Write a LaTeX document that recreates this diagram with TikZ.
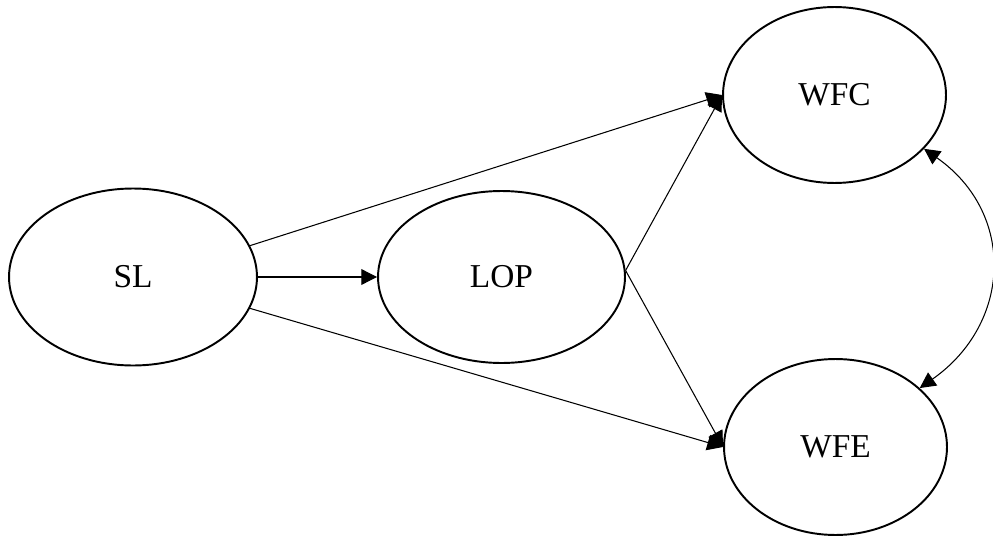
\documentclass[tikz,border=0pt]{standalone}
\usepackage{fontspec}
\setmainfont{Liberation Serif}
\usetikzlibrary{arrows.meta,shapes.geometric}

\def\wide{4.46cm}
\def\high{3.52cm}

\tikzset{
  var/.style={draw, ellipse, line width=1.1pt, inner sep=0pt,
    minimum width=\wide, minimum height=\high,
    font=\fontsize{19}{23}\selectfont},
  tip/.tip={Triangle[length=9pt,width=9pt]},
  link/.style={-tip, line width=0.6pt}
}

\begin{document}
\begin{tikzpicture}[x=0.02cm,y=-0.02cm]
        \useasboundingbox (0,0) rectangle (993,537);
        % predictor
        \node[var, minimum width=4.96cm, minimum height=3.54cm] (SL) at (133,277) {SL};
        % mediator
        \node[var, minimum width=4.94cm, minimum height=3.44cm] (LOP) at (501.5,277) {LOP};
        % outcomes
        \node[var] (WFC) at (834.5,95) {WFC};
        \node[var] (WFE) at (835.5,447) {WFE};
        % direct paths
        \draw[link] (SL.15) -- (WFC.west);
        \draw[link] (SL.east) -- (LOP.west);
        \draw[link] (SL.-15) -- (WFE.west);
        % indirect paths
        \draw[link] (LOP.3) -- (WFC.west);
        \draw[link] (LOP.3) -- (WFE.west);
        % covariance between outcomes
        \draw[link, tip-tip] (WFC.-31) to[out=-35, in=35, looseness=1.2] (WFE.35);
    \end{tikzpicture}
\end{document}
